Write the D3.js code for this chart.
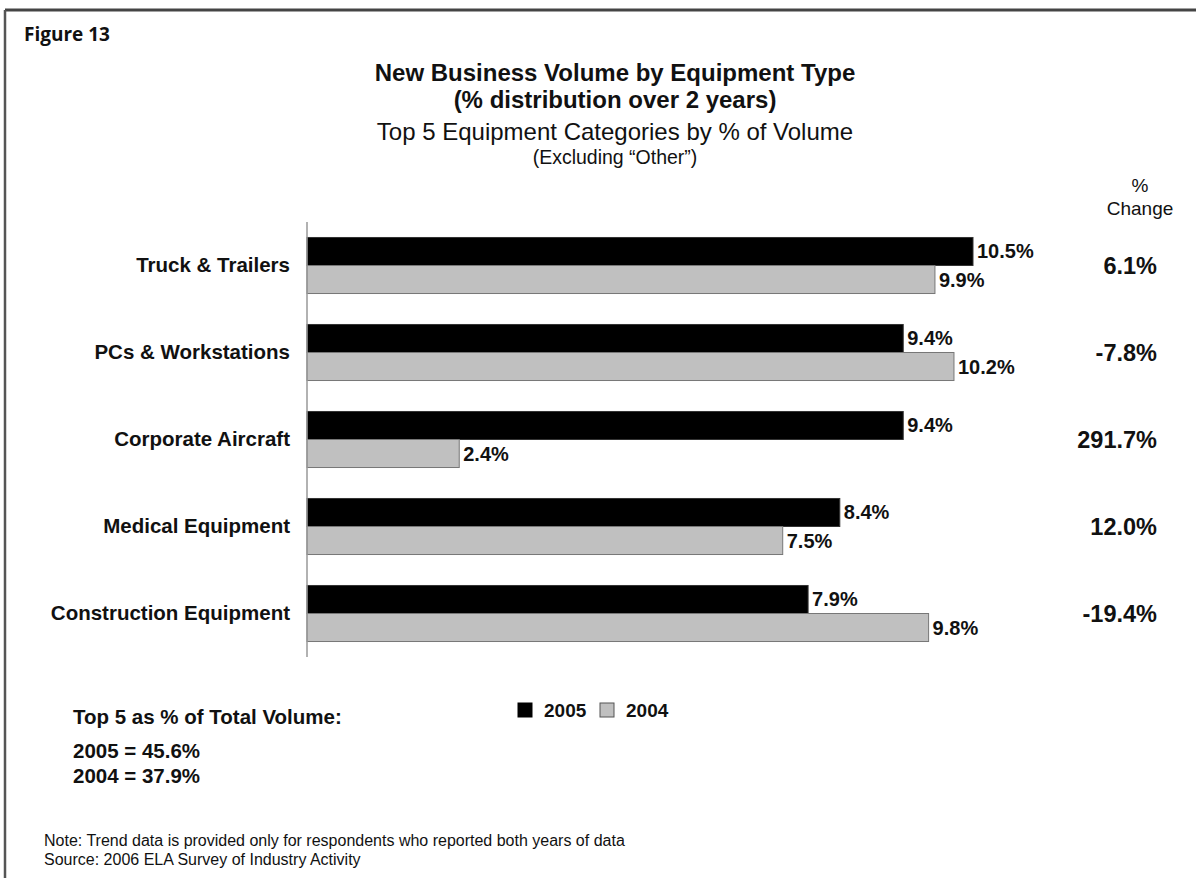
<!DOCTYPE html>
<html>
<head>
<meta charset="utf-8">
<script src="https://cdn.jsdelivr.net/npm/d3@7"></script>
<style>
  html, body { margin: 0; padding: 0; background: #fff; }
  svg { display: block; }
  text { font-family: "Liberation Sans", Arial, sans-serif; fill: #111; }
</style>
</head>
<body>
<svg id="chart" width="1196" height="878"></svg>
<script>
// Equipment categories and their share of new business volume (%)
const categories = ["Truck & Trailers", "PCs & Workstations", "Corporate Aircraft", "Medical Equipment", "Construction Equipment"];
const values2005 = [10.5, 9.4, 9.4, 8.4, 7.9];
const values2004 = [9.9, 10.2, 2.4, 7.5, 9.8];
const pctChange = ["6.1%", "-7.8%", "291.7%", "12.0%", "-19.4%"];
const seriesNames = ["2005", "2004"];
const seriesColors = ["#000000", "#c0c0c0"];
const totalsLines = ["2005 = 45.6%", "2004 = 37.9%"];

const svg = d3.select("#chart");

// Frame (top and left rules)
svg.append("line").attr("x1", 5).attr("x2", 1196).attr("y1", 10).attr("y2", 10)
  .attr("stroke", "#444").attr("stroke-width", 3);
svg.append("line").attr("x1", 5).attr("x2", 5).attr("y1", 10).attr("y2", 878)
  .attr("stroke", "#555").attr("stroke-width", 2.5);

svg.append("text").attr("x", 24).attr("y", 41)
  .style("font-family", "'Open Sans', sans-serif").style("font-weight", 700).style("font-size", "19px")
  .text("Figure 13");

// Titles
const cx = 615;
svg.append("text").attr("x", cx).attr("y", 81).attr("text-anchor", "middle")
  .style("font-weight", 700).style("font-size", "24px")
  .text("New Business Volume by Equipment Type");
svg.append("text").attr("x", cx).attr("y", 108).attr("text-anchor", "middle")
  .style("font-weight", 700).style("font-size", "24px")
  .text("(% distribution over 2 years)");
svg.append("text").attr("x", cx).attr("y", 140).attr("text-anchor", "middle")
  .style("font-size", "24px")
  .text("Top 5 Equipment Categories by % of Volume");
svg.append("text").attr("x", cx).attr("y", 164).attr("text-anchor", "middle")
  .style("font-size", "19.5px")
  .text("(Excluding \u201COther\u201D)");

// % Change header
svg.append("text").attr("x", 1140).attr("y", 192).attr("text-anchor", "middle")
  .style("font-size", "19px").text("%");
svg.append("text").attr("x", 1140).attr("y", 215).attr("text-anchor", "middle")
  .style("font-size", "19px").text("Change");

// Scales
const x0 = 307;
const x = d3.scaleLinear().domain([0, 10.5]).range([x0, 973]);
const y = d3.scaleBand().domain(categories).range([222, 657]).paddingInner(0.356).paddingOuter(0.178);
const sub = d3.scaleBand().domain(seriesNames).range([0, y.bandwidth()]);

// Bars
const rows = categories.map((c, i) => ({ cat: c, vals: [values2005[i], values2004[i]], change: pctChange[i] }));

const groups = svg.selectAll("g.row").data(rows).join("g")
  .attr("class", "row")
  .attr("transform", d => `translate(0,${y(d.cat)})`);

groups.selectAll("rect").data(d => d.vals.map((v, k) => ({ v, k }))).join("rect")
  .attr("x", x(0))
  .attr("y", d => sub(seriesNames[d.k]))
  .attr("width", d => x(d.v) - x(0))
  .attr("height", sub.bandwidth())
  .attr("fill", d => seriesColors[d.k])
  .attr("stroke", d => d.k === 0 ? "#333" : "#777")
  .attr("stroke-width", 1);

groups.selectAll("text.val").data(d => d.vals.map((v, k) => ({ v, k }))).join("text")
  .attr("class", "val")
  .attr("x", d => x(d.v) + 4)
  .attr("y", d => sub(seriesNames[d.k]) + sub.bandwidth() / 2 + 7)
  .style("font-weight", 700).style("font-size", "20px")
  .text(d => d.v.toFixed(1) + "%");

// Category labels
groups.append("text")
  .attr("x", 290).attr("y", y.bandwidth() / 2 + 7)
  .attr("text-anchor", "end")
  .style("font-weight", 700).style("font-size", "20.5px")
  .text(d => d.cat);

// % change column
groups.append("text")
  .attr("x", 1157).attr("y", y.bandwidth() / 2 + 9)
  .attr("text-anchor", "end")
  .style("font-weight", 700).style("font-size", "23.5px")
  .text(d => d.change);

// Category axis line
svg.append("line").attr("x1", x0).attr("x2", x0).attr("y1", 222).attr("y2", 657)
  .attr("stroke", "#999").attr("stroke-width", 1.5);

// Legend
const legend = svg.append("g").attr("transform", "translate(518,703)");
const legendX = [0, 82];
seriesNames.forEach((name, k) => {
  legend.append("rect").attr("x", legendX[k]).attr("y", 0).attr("width", 14).attr("height", 14)
    .attr("fill", seriesColors[k]).attr("stroke", k === 0 ? "#000" : "#555").attr("stroke-width", 1);
  legend.append("text").attr("x", legendX[k] + 26).attr("y", 14)
    .style("font-weight", 700).style("font-size", "19px").text(name);
});

// Totals block
svg.append("text").attr("x", 73).attr("y", 724)
  .style("font-weight", 700).style("font-size", "20.5px")
  .text("Top 5 as % of Total Volume:");
totalsLines.forEach((t, i) => {
  svg.append("text").attr("x", 73).attr("y", 758 + i * 25)
    .style("font-weight", 700).style("font-size", "20.5px").text(t);
});

// Footnotes
svg.append("text").attr("x", 44).attr("y", 846).style("font-size", "16px")
  .text("Note: Trend data is provided only for respondents who reported both years of data");
svg.append("text").attr("x", 44).attr("y", 865).style("font-size", "16px")
  .text("Source: 2006 ELA Survey of Industry Activity");
</script>
</body>
</html>
